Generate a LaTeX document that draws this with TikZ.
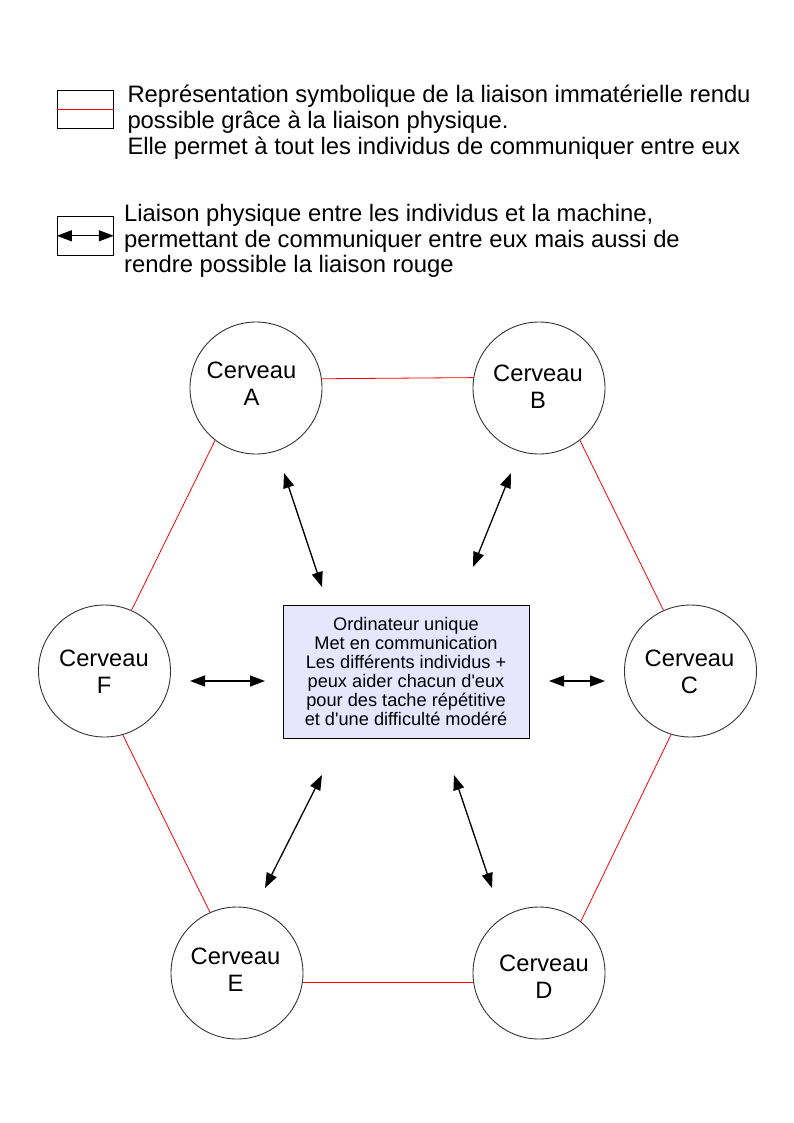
\documentclass[tikz,border=0pt]{standalone}
\usepackage{fontspec}
\setmainfont{Liberation Sans}
\usetikzlibrary{arrows.meta}
\definecolor{boxfill}{RGB}{230,230,255}
\definecolor{linkred}{RGB}{255,0,0}
\tikzset{
  brain/.style={circle, draw=black!80, line width=0.9pt, minimum size=132pt, inner sep=0pt},
  braintext/.style={align=center, font=\fontsize{23.7}{27}\selectfont, inner sep=0pt},
  redlink/.style={draw=linkred, line width=0.8pt},
  phys/.style={line width=1.3pt, {Triangle[length=15pt,width=11pt]}-{Triangle[length=15pt,width=11pt]}},
  legtext/.style={anchor=base west, inner sep=0pt, font=\fontsize{23.8}{26}\selectfont},
  legbox/.style={draw=black, line width=0.9pt, minimum width=56pt, minimum height=38.3pt, inner sep=0pt},
  cpu/.style={draw=black, line width=0.9pt, fill=boxfill, minimum width=246pt, minimum height=133pt, inner sep=0pt, align=center, font=\fontsize{18.2}{19.1}\selectfont}
}
\begin{document}
\begin{tikzpicture}[x=1pt,y=-1pt]
\useasboundingbox (0,0) rectangle (794,1123);
% legend
\node[legbox] (L1) at (85.3,109.2) {};
\draw[redlink] (L1.west) -- (L1.east);
\node[legtext] (t11) at (127.3,102.7) {Représentation symbolique de la liaison immatérielle rendu};
\node[legtext] (t12) at (127.3,128.4) {possible grâce à la liaison physique.};
\node[legtext] (t13) at (127.3,154.1) {Elle permet à tout les individus de communiquer entre eux};
\node[legbox] (L2) at (85.3,235.8) {};
\draw[phys] (L2.west) -- (L2.east);
\node[legtext] (t21) at (124,221.7) {Liaison physique entre les individus et la machine,};
\node[legtext] (t22) at (124,247.2) {permettant de communiquer entre eux mais aussi de};
\node[legtext] (t23) at (124,272.7) {rendre possible la liaison rouge};
% brains
\node[brain] (A) at (256,388) {};
\node[brain] (B) at (539,388) {};
\node[brain] (C) at (690.5,671) {};
\node[brain] (D) at (539,973) {};
\node[brain] (E) at (237,973) {};
\node[brain] (F) at (104.5,671) {};
\node[braintext] (tA) at (251.5,383.5) {Cerveau\\A};
\node[braintext] (tB) at (538,386.5) {Cerveau\\B};
\node[braintext] (tC) at (689.5,672) {Cerveau\\C};
\node[braintext] (tD) at (544,976.5) {Cerveau\\D};
\node[braintext] (tE) at (235.5,970) {Cerveau\\E};
\node[braintext] (tF) at (104,671.5) {Cerveau\\F};
% red links
\draw[redlink] (A.8.6) -- (B.171.4);
\draw[redlink] (A.232.8) -- (F.66.5);
\draw[redlink] (B.-52.8) -- (C.114.3);
\draw[redlink] (C.253.9) -- (D.51);
\draw[redlink] (F.286) -- (E.114);
\draw[redlink] (E.-8.6) -- (D.188.6);
% central computer
\node[cpu] (M) at (406,671.5) {Ordinateur unique\\Met en communication\\Les différents individus +\\peux aider chacun d\textquotesingle eux\\pour des tache répétitive\\et d\textquotesingle une difficulté modéré};
% physical links
\coordinate (a1) at (284,473); \coordinate (a2) at (322,587);
\coordinate (b1) at (511,473); \coordinate (b2) at (473,567);
\coordinate (f1) at (190,681); \coordinate (f2) at (265,681);
\coordinate (c1) at (549,681); \coordinate (c2) at (605,681);
\coordinate (e1) at (265,888); \coordinate (e2) at (322,775);
\coordinate (d1) at (454,775); \coordinate (d2) at (492,888);
\draw[phys] (a1) -- (a2);
\draw[phys] (b1) -- (b2);
\draw[phys] (f1) -- (f2);
\draw[phys] (c1) -- (c2);
\draw[phys] (e1) -- (e2);
\draw[phys] (d1) -- (d2);
\end{tikzpicture}
\end{document}
